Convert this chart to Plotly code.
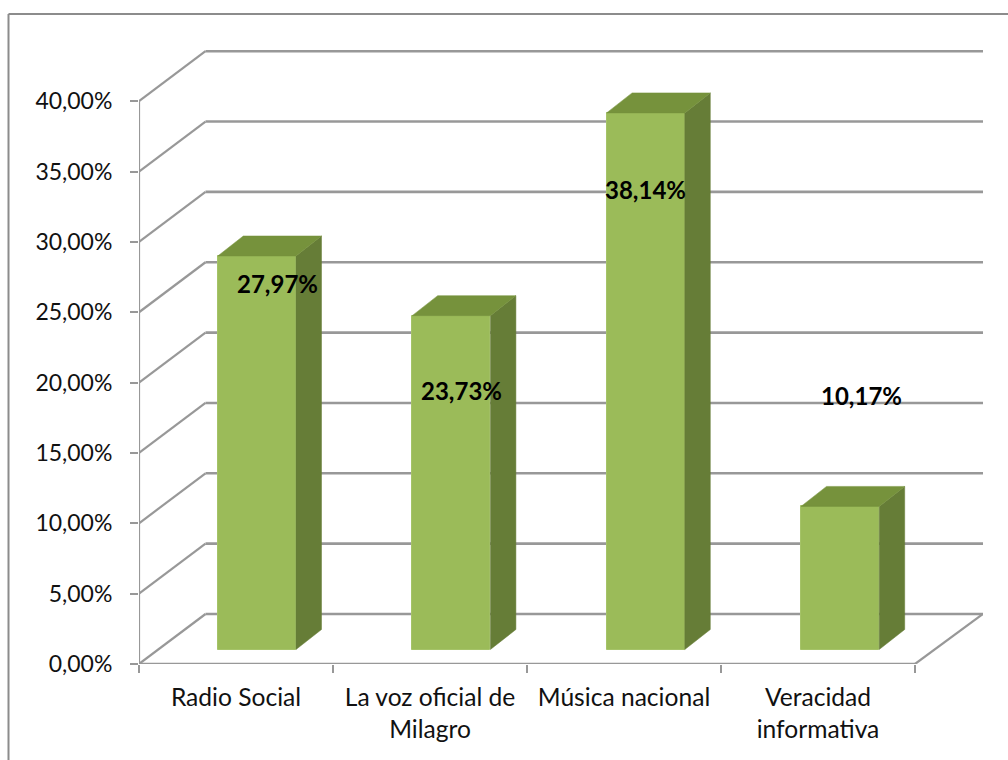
import plotly.graph_objects as go

categories = ["Radio Social", "La voz oficial de<br>Milagro", "Música nacional", "Veracidad<br>informativa"]
values = [27.97, 23.73, 38.14, 10.17]
y_ticks = [0, 5, 10, 15, 20, 25, 30, 35, 40]
y_tick_labels = ["0,00%", "5,00%", "10,00%", "15,00%", "20,00%", "25,00%", "30,00%", "35,00%", "40,00%"]

W, H = 1008, 760
X0, X1 = 139, 983          # plot area pixels
Y0, YT = 664, 40
PX_UNIT_Y = 14.07
PX_UNIT_X = 194.4          # bar spacing
TICK_STEP = 194.0          # category tick spacing on the front edge
BAR0 = 256.9               # first bar centre, px

x_of = lambda px: (px - BAR0) / PX_UNIT_X
y_of = lambda py: (Y0 - py) / PX_UNIT_Y

WALL_DX = 66.5 / PX_UNIT_X
WALL_DY = 50 / PX_UNIT_Y
BAR_W = 78.2 / PX_UNIT_X
DEPTH_X = 25.5 / PX_UNIT_X
DEPTH_Y = 20 / PX_UNIT_Y
BASE = 1.03

GRID = "#989898"
FRONT = "#9BBB59"
SIDE = "#667D37"
TOP = "#76923C"
FONT = "Lato"

xs = list(range(len(values)))
x_left, x_right = x_of(X0), x_of(X1)
front_right = x_of(915)

fig = go.Figure()
fig.add_trace(go.Bar(x=xs, y=values, base=BASE, width=BAR_W,
                     marker=dict(color=FRONT, line=dict(color="#A5C368", width=1)),
                     showlegend=False, hoverinfo="skip"))
for x, v in zip(xs, values):
    r = x + BAR_W / 2
    l = x - BAR_W / 2
    t = BASE + v
    fig.add_trace(go.Scatter(
        x=[r, r + DEPTH_X, r + DEPTH_X, r, r], y=[BASE, BASE + DEPTH_Y, t + DEPTH_Y, t, BASE],
        mode="lines", fill="toself", fillcolor=SIDE, line=dict(color=SIDE, width=0.5),
        showlegend=False, hoverinfo="skip"))
    fig.add_trace(go.Scatter(
        x=[l, r, r + DEPTH_X, l + DEPTH_X, l], y=[t, t, t + DEPTH_Y, t + DEPTH_Y, t],
        mode="lines", fill="toself", fillcolor=TOP, line=dict(color=TOP, width=0.5),
        showlegend=False, hoverinfo="skip"))

shapes = []
def seg(x0, y0, x1, y1, w=2.2):
    shapes.append(dict(type="line", xref="x", yref="y", x0=x0, y0=y0, x1=x1, y1=y1,
                       layer="below", line=dict(color=GRID, width=w)))

wall_l = x_left + WALL_DX
for t in y_ticks:
    seg(x_left, t, wall_l, t + WALL_DY)
    seg(wall_l, t + WALL_DY, x_right, t + WALL_DY, 2.6)
seg(x_left, 0, x_left, y_ticks[-1])
seg(x_left, 0, front_right, 0, 2.6)
seg(front_right, 0, x_right, WALL_DY)

# outer chart frame: top and left edges run off the picture
for x0, y0, x1, y1 in [(8.5, 14, W + 5, 14), (8.5, 14, 8.5, H + 5)]:
    shapes.append(dict(type="line", xref="paper", yref="paper",
                       x0=x0 / W, x1=x1 / W, y0=1 - y0 / H, y1=1 - y1 / H,
                       line=dict(color="#8C8C8C", width=2)))

label_pos = [(277, 283), (461, 390), (645, 189), (861, 395)]
annotations = [dict(x=x_of(px), y=y_of(py), xref="x", yref="y", showarrow=False,
                    text="<b>" + f"{v:.2f}%".replace(".", ",") + "</b>",
                    font=dict(family=FONT, size=24, color="black"))
               for v, (px, py) in zip(values, label_pos)]

fig.update_layout(
    width=W, height=H, autosize=False,
    margin=dict(l=0, r=0, t=0, b=0),
    paper_bgcolor="white", plot_bgcolor="white",
    font=dict(family=FONT, size=23, color="#111111"),
    showlegend=False, bargap=0, shapes=shapes, annotations=annotations,
    xaxis=dict(domain=[X0 / W, X1 / W], range=[x_left, x_right], showgrid=False, zeroline=False,
               showline=False, automargin=False, tickmode="array",
               tickvals=[x_of(X0 + TICK_STEP * (i + 0.5)) for i in xs], tickfont=dict(size=24.6),
               ticktext=categories, ticks="", ticklabelstandoff=16,
               minor=dict(ticks="outside", ticklen=8, tickwidth=2, tickcolor=GRID,
                          tickmode="array",
                          tickvals=[x_of(X0 + TICK_STEP * i) for i in range(5)])),
    yaxis=dict(domain=[(H - Y0) / H, (H - YT) / H], range=[0, y_of(YT)], showgrid=False,
               zeroline=False, showline=False, automargin=False, tickmode="array",
               tickvals=y_ticks, ticktext=y_tick_labels, ticks="outside", ticklen=8,
               tickwidth=2, tickcolor=GRID, ticklabelstandoff=13),
)

fig.write_html("out.html", config={"displayModeBar": False},
               post_script="document.body.style.margin='0';")
